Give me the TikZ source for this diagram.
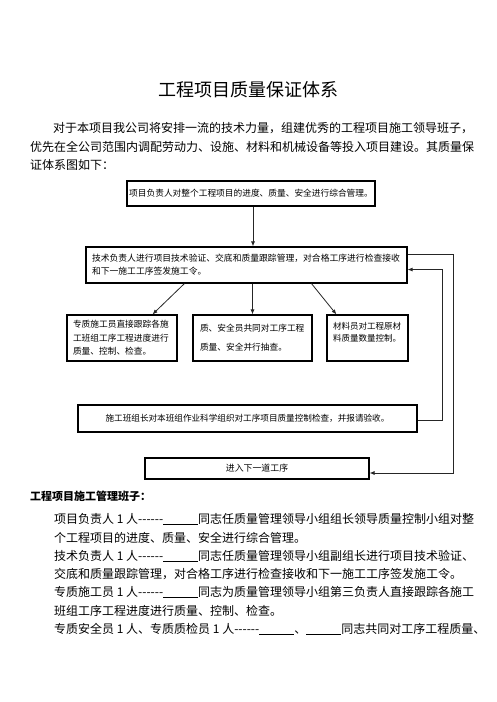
\documentclass[tikz,border=0pt]{standalone}
\usepackage{fontspec}
\setmainfont{Noto Sans CJK SC}
\usetikzlibrary{arrows.meta,positioning}

\newcommand{\blank}{\underline{\hspace{35pt}}}
\newcommand{\dashrun}{{-}{-}{-}{-}{-}{-}}

\begin{document}
\begin{tikzpicture}[x=1pt,y=-1pt,>=Latex,
 box/.style={draw=black,line width=1.1pt,inner sep=0pt,align=left},
 flow/.style={-{Latex[length=5pt,width=4pt]},line width=.8pt,draw=black!85},
 txt/.style={anchor=west,inner sep=0pt,font=\fontsize{12}{18}\selectfont},
 every node/.style={font=\fontsize{8.7}{13}\selectfont}]
\useasboundingbox (0,0) rectangle (496,702);
% heading and introduction
\node[inner sep=0pt,font=\fontsize{18}{20}\selectfont] (title) at (248,90) {工程项目质量保证体系};
\node[txt] (intro1) at (53,128) {对于本项目我公司将安排一流的技术力量，组建优秀的工程项目施工领导班子，};
\node[txt] (intro2) at (30,147) {优先在全公司范围内调配劳动力、设施、材料和机械设备等投入项目建设。其质量保};
\node[txt] (intro3) at (30,165) {证体系图如下：};
% flow chart
\node[box,align=center,minimum width=248pt,minimum height=25pt] (lead) at (251,193.5)
 {项目负责人对整个工程项目的进度、质量、安全进行综合管理。};
\node[box,text width=309pt,inner xsep=6pt,minimum height=36pt,font=\fontsize{8.8}{13}\selectfont] (tech) at (246.5,265)
 {技术负责人进行项目技术验证、交底和质量跟踪管理，对合格工序进行检查接收\\和下一施工工序签发施工令。};
\node[box,text width=98pt,inner xsep=6pt,minimum height=46pt,font=\fontsize{8.7}{13.5}\selectfont] (crew) at (122,338)
 {专质施工员直接跟踪各施\\工班组工序工程进度进行\\质量、控制、检查。};
\node[box,text width=105pt,inner xsep=7pt,minimum height=46pt,font=\fontsize{8.7}{19}\selectfont] (safe) at (252.5,338)
 {质、安全员共同对工序工程\\质量、安全并行抽查。};
\node[box,text width=69pt,inner xsep=6pt,minimum height=46pt,font=\fontsize{8.5}{12}\selectfont] (material) at (367.5,338)
 {材料员对工程原材\\料质量数量控制。\\\mbox{}};
\node[box,align=center,minimum width=339pt,minimum height=27pt,font=\fontsize{8.6}{12}\selectfont] (report) at (247.5,418.5)
 {施工班组长对本班组作业科学组织对工序项目质量控制检查，并报请验收。};
\node[box,align=center,minimum width=224pt,minimum height=21pt,font=\fontsize{8.9}{12}\selectfont] (next) at (257,468.5)
 {进入下一道工序};
\draw[flow] (lead.south -| 253,0) -- (tech.north -| 253,0);
\draw[flow] ([xshift=99pt]tech.south west) -- ([xshift=86pt]crew.north west);
\draw[flow] (safe.north |- tech.south) -- (safe.north);
\draw[flow] ([xshift=226pt]tech.south west) -- ([xshift=10pt]material.north west);
% feedback loops on the right
\coordinate (outer) at (453,0);
\coordinate (inner) at (442,0);
\coordinate (fbtop) at ([yshift=-8pt]tech.north east);
\coordinate (fbend) at ([yshift=-4.5pt]next.east);
\coordinate (fbback) at ([yshift=14pt]tech.south east);
\coordinate (fbstart) at ([yshift=-1.5pt]report.east);
\draw[flow] (fbtop) -| (outer |- fbend) -- (fbend);
\draw[flow] (fbstart) -| (inner |- fbback) -- (fbback);
% management team
\node[anchor=west,inner sep=0pt,font=\fontsize{11}{14}\selectfont\bfseries] (team) at (30,496) {工程项目施工管理班子：};
\node[txt] (m1) at (54,519) {项目负责人 1 人\dashrun\blank 同志任质量管理领导小组组长领导质量控制小组对整};
\node[txt] (m2) at (54,538) {个工程项目的进度、质量、安全进行综合管理。};
\node[txt] (m3) at (54,556) {技术负责人 1 人\dashrun\blank 同志任质量管理领导小组副组长进行项目技术验证、};
\node[txt] (m4) at (54,574) {交底和质量跟踪管理，对合格工序进行检查接收和下一施工工序签发施工令。};
\node[txt] (m5) at (54,592) {专质施工员 1 人\dashrun\blank 同志为质量管理领导小组第三负责人直接跟踪各施工};
\node[txt] (m6) at (54,611) {班组工序工程进度进行质量、控制、检查。};
\node[txt] (m7) at (54,629) {专质安全员 1 人、专质质检员 1 人\dashrun\blank 、\blank 同志共同对工序工程质量、};
\end{tikzpicture}
\end{document}
